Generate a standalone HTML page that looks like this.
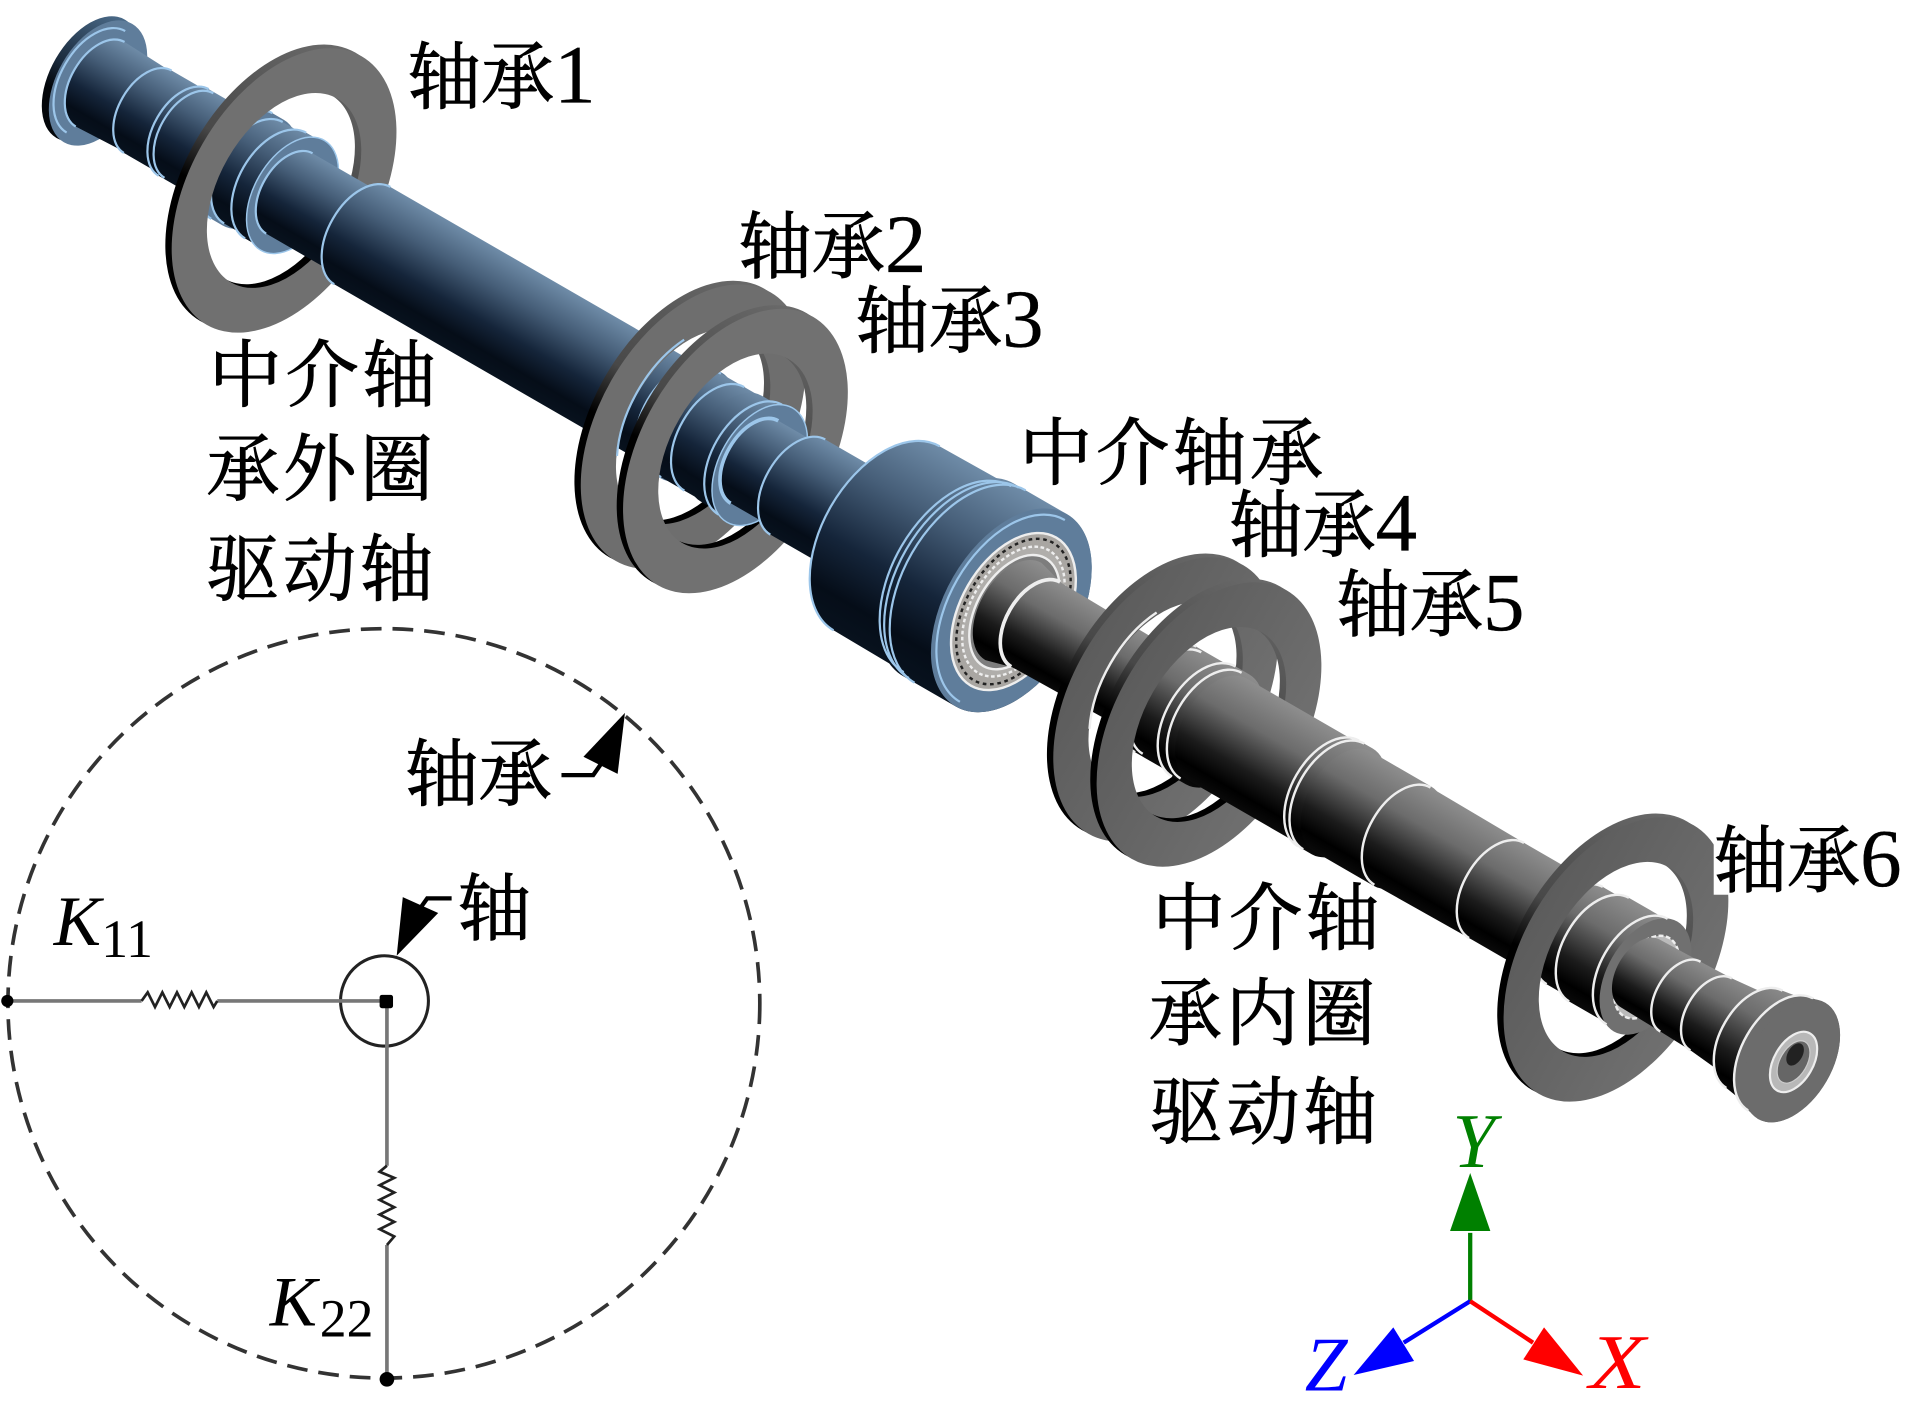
<!DOCTYPE html>
<html><head><meta charset="utf-8">
<style>
html,body{margin:0;padding:0;background:#fff}
svg{display:block}
.t{font-family:"Noto Serif CJK SC","Liberation Serif",serif;font-size:60px;fill:#000;stroke:#000;stroke-width:.8}
.n{font-family:"Liberation Serif",serif;font-size:68px;stroke-width:.3}
.i{font-family:"Liberation Serif",serif;font-style:italic}
.b{fill:url(#blue)}.g{fill:url(#gray)}
.lb{fill:none;stroke:#9cc6ea;stroke-width:1.8}
.lw{fill:none;stroke:#eee;stroke-width:2}
</style></head><body>
<svg xmlns="http://www.w3.org/2000/svg" width="1909" height="1414" viewBox="0 0 1564 1158.4">
<defs>
<linearGradient id="blue" x1="0" y1="0" x2="0" y2="1"><stop offset="0" stop-color="#6f8ca8"/><stop offset=".3" stop-color="#465e78"/><stop offset=".62" stop-color="#15253a"/><stop offset=".85" stop-color="#050d18"/><stop offset="1" stop-color="#08121e"/></linearGradient>
<linearGradient id="gray" x1="0" y1="0" x2="0" y2="1"><stop offset="0" stop-color="#8e8e8e"/><stop offset=".33" stop-color="#6c6c6c"/><stop offset=".68" stop-color="#1c1c1c"/><stop offset=".88" stop-color="#000"/><stop offset="1" stop-color="#0a0a0a"/></linearGradient>
<linearGradient id="bk" x1="0" y1="0" x2="0" y2="1"><stop offset="0" stop-color="#6a6a6a"/><stop offset=".45" stop-color="#484848"/><stop offset=".62" stop-color="#000"/><stop offset="1" stop-color="#000"/></linearGradient>
<linearGradient id="bkb" x1="0" y1="0" x2="0" y2="1"><stop offset="0" stop-color="#4a6a88"/><stop offset=".5" stop-color="#1a2a3c"/><stop offset=".7" stop-color="#03060a"/><stop offset="1" stop-color="#03060a"/></linearGradient>
<linearGradient id="rg" x1="0" y1="0" x2="1" y2="0"><stop offset="0" stop-color="#5c5c5c"/><stop offset="1" stop-color="#707070"/></linearGradient>
<path id="ring" fill-rule="evenodd" d="M-77 0A77 127 0 1 0 77 0A77 127 0 1 0 -77 0ZM-53 0A53 87 0 1 0 53 0A53 87 0 1 0 -53 0Z"/>
</defs>
<rect width="1564" height="1158.4" fill="#fff"/>

<g transform="translate(231 155) rotate(30)">
<!-- left end flange -->
<ellipse cx="-181" cy="0" rx="33" ry="56" fill="url(#bkb)"/>
<ellipse cx="-174" cy="0" rx="33.5" ry="56" fill="#5f7d9b"/>
<path class="lb" d="M-176 -48A29 48 0 0 0 -176 48"/>
<path class="b" d="M-172 -40A24.2 40 0 0 0 -172 40L-127 38A23 38 0 0 0 -127 -38Z"/>
<path class="lb" d="M-172 -40A24.2 40 0 0 0 -172 40"/>
<path class="b" d="M-127 -39A23.6 39 0 0 0 -127 39L-93 39A23.6 39 0 0 0 -93 -39Z"/>
<path class="lb" d="M-127 -39A23.6 39 0 0 0 -127 39"/>
<path class="b" d="M-93 -41A24.8 41 0 0 0 -93 41L-50 41A24.8 41 0 0 0 -50 -41Z"/>
<path class="lb" d="M-93 -41A24.8 41 0 0 0 -93 41M-88 -40A24.2 40 0 0 0 -88 40"/>
<!-- ring 1 collars -->
<path class="b" style="fill:#5f7d9b" d="M-38 -50A30.3 50 0 0 0 -38 50L-27 50A30.3 50 0 0 0 -27 -50Z"/>
<path class="lb" d="M-38 -50A30.3 50 0 0 0 -38 50"/>
<path class="b" d="M-27 -48A29 48 0 0 0 -27 48L-6 48A29 48 0 0 0 -6 -48Z"/>
<path class="lb" d="M-27 -48A29 48 0 0 0 -27 48"/>
<path class="b" d="M-6 -50A30.3 50 0 0 0 -6 50L6 50A30.3 50 0 0 0 6 -50Z"/>
<!-- ring 1 -->
<use href="#ring" x="-4" fill="url(#bk)"/>
<use href="#ring" x="2" fill="#707070"/>
<path class="b" d="M-6 -50A30.3 50 0 0 0 -6 50L10 50A30.3 50 0 0 0 10 -50Z"/>
<path class="lb" d="M-6 -50A30.3 50 0 0 0 -6 50"/>
<ellipse cx="10" cy="0" rx="31.5" ry="52" fill="#5f7d9b" stroke="#9cc6ea" stroke-width="1.2"/>
<path class="b" d="M7 -38A23 38 0 0 0 7 38L78 38A23 38 0 0 0 78 -38Z"/>
<path class="lb" d="M7 -38A23 38 0 0 0 7 38"/>
<path class="b" d="M76 -46A27.8 46 0 0 0 76 46L387 46A27.8 46 0 0 0 387 -46Z"/>
<path class="lb" d="M76 -46A27.8 46 0 0 0 76 46"/>
<!-- rings 2,3 -->
<use href="#ring" x="383" fill="url(#bk)"/>
<use href="#ring" x="389" fill="#6e6e6e"/>
<path class="b" style="fill:#5f7d9b" d="M376 -50A30.3 50 0 0 0 376 50L387 50A30.3 50 0 0 0 387 -50Z"/>
<path class="lb" d="M376 -50A30.3 50 0 0 0 376 50"/>
<path class="b" d="M387 -49A29.6 49 0 0 0 387 49L409 49A29.6 49 0 0 0 409 -49Z"/>
<path class="lb" d="M387 -49A29.6 49 0 0 0 387 49"/>
<path class="b" d="M409 -49A29.6 49 0 0 0 409 49L425 49A29.6 49 0 0 0 425 -49Z"/>
<path class="lb" d="M409 -49A29.6 49 0 0 0 409 49"/>
<use href="#ring" x="423" fill="url(#bk)"/>
<use href="#ring" x="429" fill="#717171"/>
<path class="lb" d="M347 -58A53 87 0 0 0 347 52"/>
<path class="b" d="M425 -50A30.3 50 0 0 0 425 50L450 50A30.3 50 0 0 0 450 -50Z"/>
<path class="lb" d="M443 -52A31.5 52 0 0 0 443 52"/>
<ellipse cx="452" cy="0" rx="32.7" ry="54" fill="#5f7d9b" stroke="#9cc6ea" stroke-width="1.2"/>
<path class="b" d="M447 -39A23.6 39 0 0 0 447 39L488 39A23.6 39 0 0 0 488 -39Z"/>
<path class="lb" style="stroke-width:3" d="M447 -39A23.6 39 0 0 0 447 39"/>
<path class="b" d="M488 -45A27.2 45 0 0 0 488 45L526 45A27.2 45 0 0 0 526 -45Z"/>
<path class="lb" d="M488 -45A27.2 45 0 0 0 488 45"/>
<!-- housing -->
<path class="b" d="M572 -87A52.6 87 0 0 0 572 87L650 88A53.2 88 0 0 0 650 -88Z"/>
<path class="lb" d="M572 -87A52.6 87 0 0 0 572 87"/>
<path class="b" d="M640 -91A55 91 0 0 0 640 91L690 91A55 91 0 0 0 690 -91Z"/>
<path class="lb" d="M639 -88A53.2 88 0 0 0 639 88M645 -90A54.5 90 0 0 0 645 90M651 -91A55 91 0 0 0 651 91"/>
<ellipse cx="690" cy="0" rx="55" ry="91" fill="#5f7d9b"/>
<path class="lb" d="M691 -86A52 86 0 0 0 691 86"/>
<ellipse cx="692" cy="0" rx="43" ry="70" fill="#a9a6a2" stroke="#eee" stroke-width="2"/>
<ellipse cx="692" cy="0" rx="39" ry="65" fill="none" stroke="#222" stroke-width="2" stroke-dasharray="3 3"/>
<ellipse cx="692" cy="0" rx="35" ry="58" fill="#b0aeab" stroke="#eee" stroke-width="2" stroke-dasharray="3 2"/>
<ellipse cx="693" cy="0" rx="31" ry="51" fill="#7d7d7d" stroke="#eee" stroke-width="2"/>
<ellipse cx="705" cy="-34" rx="7" ry="4" fill="#000"/>
<path class="g" d="M692 -46A27.8 46 0 0 0 692 46L714 40A24.2 40 0 0 0 714 -40Z"/>
<path class="g" d="M713 -40A24.2 40 0 0 0 713 40L830 38A23 38 0 0 0 830 -38Z"/>
<path class="lw" style="stroke-width:3" d="M713 -40A24.2 40 0 0 0 713 40"/>
<!-- rings 4,5 -->
<use href="#ring" x="830" fill="url(#bk)"/>
<use href="#ring" x="836" fill="url(#rg)"/>
<path class="g" d="M836 -50A30.3 50 0 0 0 836 50L870 50A30.3 50 0 0 0 870 -50Z"/>
<path class="lw" d="M836 -50A30.3 50 0 0 0 836 50M842 -48A29 48 0 0 0 842 48"/>
<use href="#ring" x="871" fill="url(#bk)"/>
<use href="#ring" x="877" fill="url(#rg)"/>
<path class="lw" d="M794 -58A53 87 0 0 0 794 52"/>
<path class="g" d="M872 -52A31.5 52 0 0 0 872 52L885 52A31.5 52 0 0 0 885 -52Z"/>
<path class="lw" d="M872 -52A31.5 52 0 0 0 872 52M879 -50A30.3 50 0 0 0 879 50"/>
<path class="g" d="M885 -48A29 48 0 0 0 885 48L990 48A29 48 0 0 0 990 -48Z"/>
<path class="g" d="M990 -50A30.3 50 0 0 0 990 50L1003 50A30.3 50 0 0 0 1003 -50Z"/>
<path class="lw" d="M990 -50A30.3 50 0 0 0 990 50M995 -50A30.3 50 0 0 0 995 50"/>
<path class="g" d="M1003 -47A28.4 47 0 0 0 1003 47L1060 47A28.4 47 0 0 0 1060 -47Z"/>
<path class="g" d="M1060 -46A27.8 46 0 0 0 1060 46L1149 45A27.2 45 0 0 0 1149 -45Z"/>
<path class="lw" d="M1060 -46A27.8 46 0 0 0 1060 46"/>
<path class="g" d="M1149 -45A27.2 45 0 0 0 1149 45L1224 45A27.2 45 0 0 0 1224 -45Z"/>
<path class="lw" d="M1149 -45A27.2 45 0 0 0 1149 45"/>
<!-- ring 6 -->
<path class="g" style="fill:#777" d="M1212 -46A28 46 0 0 0 1212 46L1223 46A28 46 0 0 0 1223 -46Z"/>
<path class="lw" d="M1212 -46A28 46 0 0 0 1212 46"/>
<path class="g" d="M1223 -46A27.8 46 0 0 0 1223 46L1250 46A27.8 46 0 0 0 1250 -46Z"/>
<path class="lw" d="M1223 -46A27.8 46 0 0 0 1223 46"/>
<use href="#ring" x="1256" fill="url(#bk)"/>
<use href="#ring" x="1262" fill="url(#rg)"/>
<path class="g" d="M1246 -49A29.6 49 0 0 0 1246 49L1285 49A29.6 49 0 0 0 1285 -49Z"/>
<path class="lw" d="M1246 -49A29.6 49 0 0 0 1246 49"/>
<ellipse cx="1290" cy="0" rx="31.5" ry="52" fill="#707070"/>
<path class="lw" d="M1282 -50A30.3 50 0 0 0 1282 50"/>
<ellipse cx="1291" cy="0" rx="22" ry="37" fill="#bbb" stroke="#eee" stroke-width="2" stroke-dasharray="4 2"/>
<path class="g" d="M1285 -32A19.4 32 0 0 0 1285 32L1323 33A20 33 0 0 0 1323 -33Z"/>
<path class="g" d="M1323 -33A20 33 0 0 0 1323 33L1352 34A20.6 34 0 0 0 1352 -34Z"/>
<path class="lw" d="M1323 -33A20 33 0 0 0 1323 33"/>
<path class="g" d="M1352 -34A20.6 34 0 0 0 1352 34L1393 38A23 38 0 0 0 1393 -38Z"/>
<path class="lw" d="M1352 -34A20.6 34 0 0 0 1352 34"/>
<path class="g" d="M1393 -46A27.8 46 0 0 0 1393 46L1418 50A30.3 50 0 0 0 1418 -50Z"/>
<path class="lw" d="M1393 -46A27.8 46 0 0 0 1393 46"/>
<path style="fill:#6c6c6c" d="M1418 -53A32 53 0 0 0 1418 53L1428 55A33.3 55 0 0 0 1428 -55Z"/>
<path class="lw" d="M1418 -53A32 53 0 0 0 1418 53"/>
<ellipse cx="1428" cy="0" rx="33.3" ry="55" fill="#6c6c6c"/>
<ellipse cx="1430" cy="0" rx="16" ry="27" fill="#b8b8b8" stroke="#eee" stroke-width="1.8"/>
<ellipse cx="1430" cy="0" rx="11" ry="19" fill="#666" stroke="#ccc" stroke-width="1"/>
<ellipse cx="1428" cy="-6" rx="6" ry="10" fill="#222"/>
</g>

<!-- white label box over ring 6 -->
<rect x="1404" y="665" width="160" height="68" fill="#fff"/>

<!-- labels -->
<text class="t" x="334" y="84">轴承<tspan class="n">1</tspan></text>
<text class="t" x="605" y="223">轴承<tspan class="n">2</tspan></text>
<text class="t" x="701" y="284">轴承<tspan class="n">3</tspan></text>
<text class="t" x="171" y="328" letter-spacing="3">中介轴</text>
<text class="t" x="169" y="405" letter-spacing="3">承外圈</text>
<text class="t" x="169" y="487" letter-spacing="3">驱动轴</text>
<text class="t" x="835" y="392" letter-spacing="3">中介轴承</text>
<text class="t" x="1007" y="451">轴承<tspan class="n">4</tspan></text>
<text class="t" x="1095" y="516">轴承<tspan class="n">5</tspan></text>
<text class="t" x="1404" y="726">轴承<tspan class="n">6</tspan></text>
<text class="t" x="944" y="773" letter-spacing="3">中介轴</text>
<text class="t" x="941" y="851" letter-spacing="3">承内圈</text>
<text class="t" x="942" y="932" letter-spacing="3">驱动轴</text>
<text class="t" x="332" y="655">轴承</text>
<text class="t" x="375" y="765">轴</text>

<!-- bearing diagram -->
<ellipse cx="314.5" cy="822" rx="308" ry="307" fill="none" stroke="#333" stroke-width="3" stroke-dasharray="17 9"/>
<ellipse cx="315" cy="820" rx="36" ry="37" fill="none" stroke="#222" stroke-width="2.5"/>
<path d="M6 820H116M178 820H316M317 820V955M317 1020V1130" fill="none" stroke="#777" stroke-width="3"/>
<path d="M116 820L121 813L127 825L133 813L139 825L145 813L151 825L157 813L163 825L169 813L175 825L178 820" fill="none" stroke="#222" stroke-width="2.2"/>
<path d="M317 955L311 960L323 965L311 971L323 977L311 983L323 989L311 995L323 1001L311 1007L323 1013L317 1020" fill="none" stroke="#222" stroke-width="2.2"/>
<circle cx="6" cy="820" r="5" fill="#000"/>
<rect x="311" y="815" width="11" height="11" rx="2" fill="#000"/>
<circle cx="317" cy="1130" r="6" fill="#000"/>
<path d="M325 783L330 735L359 748Z" fill="#000"/>
<path d="M345 743L350 736H370" fill="none" stroke="#000" stroke-width="3.5"/>
<path d="M512 584L478 620L506 634Z" fill="#000"/>
<path d="M460 635H486L493 625" fill="none" stroke="#000" stroke-width="3.5"/>
<text class="i" x="44" y="774" font-size="58">K</text>
<text x="83" y="784" font-family="Liberation Serif, serif" font-size="44">11</text>
<text class="i" x="221" y="1086" font-size="58">K</text>
<text x="262" y="1095" font-family="Liberation Serif, serif" font-size="44">22</text>

<!-- axes -->
<path d="M1204.5 1010V1066" stroke="#008000" stroke-width="3.5" fill="none"/>
<path d="M1204.5 961L1188 1008.5H1221Z" fill="#008000"/>
<path d="M1204.5 1066L1150 1100" stroke="#0000ff" stroke-width="3.5" fill="none"/>
<path d="M1109 1126.5L1141.5 1087.5L1158.5 1115Z" fill="#0000ff"/>
<path d="M1204.5 1066L1256 1100" stroke="#ff0000" stroke-width="3.5" fill="none"/>
<path d="M1297 1127L1265 1087.5L1248 1113.7Z" fill="#ff0000"/>
<text class="i" x="1190" y="956" font-size="63" fill="#008000">Y</text>
<text class="i" x="1069" y="1139" font-size="63" fill="#0000ff">Z</text>
<text class="i" transform="translate(1302 1137) scale(1.2 1)" font-size="63" fill="#ff0000">X</text>
</svg>
</body></html>
